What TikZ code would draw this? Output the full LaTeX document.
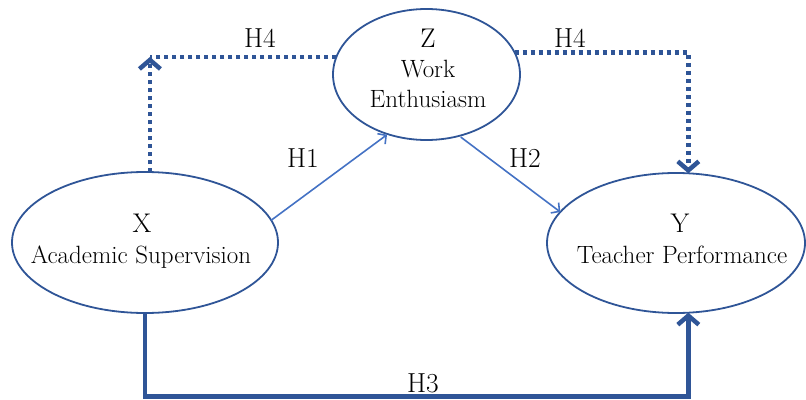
\documentclass[tikz,border=0pt]{standalone}
\usetikzlibrary{arrows.meta,shapes.geometric}
\definecolor{dkblue}{HTML}{2F5597}
\definecolor{ltblue}{HTML}{4472C4}
\begin{document}
\begin{tikzpicture}[x=1pt,y=-1pt,
  oval/.style={ellipse, draw=dkblue, line width=1.8pt, inner sep=0pt, outer sep=0pt},
  letter/.style={anchor=base, font=\fontsize{27}{31}\selectfont, inner sep=0pt},
  vname/.style={anchor=base, font=\fontsize{25}{29}\selectfont, inner sep=0pt},
  hlabel/.style={anchor=base, font=\fontsize{27.5}{31}\selectfont, inner sep=0pt},
  thinarrow/.style={draw=ltblue, line width=1.6pt, -{Straight Barb[length=6pt,width=13pt,line width=1.6pt]}},
  dotline/.style={draw=dkblue, line width=4.5pt, dash pattern=on 4.5pt off 3.5pt},
  dotarrow/.style={dotline, -{Straight Barb[length=9pt,width=21pt,line width=4.5pt]}},
  thickarrow/.style={draw=dkblue, line width=4.5pt, line join=miter, -{Straight Barb[length=9pt,width=21pt,line width=4.5pt]}},
]
\useasboundingbox (0,0) rectangle (806,399);

% ellipses
\node[oval, minimum width=266pt, minimum height=141pt] (X) at (145,242.5) {};
\node[oval, minimum width=187pt, minimum height=131pt] (Z) at (426.5,74.5) {};
\node[oval, minimum width=258pt, minimum height=140pt] (Y) at (676,243) {};

% texts
\node[letter] (tX) at (142,232) {X};
\node[vname] (nX) at (141,263) {Academic Supervision};
\node[letter] (tZ) at (428,47) {Z};
\node[vname] (nZ1) at (428,77) {Work};
\node[vname] (nZ2) at (428,107) {Enthusiasm};
\node[letter] (tY) at (680,232) {Y};
\node[vname] (nY) at (682,263) {Teacher Performance};

% H1, H2
\draw[thinarrow, shorten >=1pt] (X.10) -- (Z.237);
\draw[thinarrow, shorten <=2pt] (Z.298) -- (Y.165);

% H4 left
\coordinate (k4l) at (X.86 |- Z.169);
\draw[dotline] (Z.169) -- (k4l);
\draw[dotarrow] (X.86) -- (k4l);

% H4 right
\draw[dotarrow] (Z.14) -| (Y.80);

% H3
\coordinate (k3) at (400,396.5);
\draw[thickarrow] (X.south) |- (k3) -| (Y.280);

% labels
\node[hlabel] (h4a) at (260,47) {H4};
\node[hlabel] (h4b) at (570,47) {H4};
\node[hlabel] (h1) at (303,167) {H1};
\node[hlabel] (h2) at (525,167) {H2};
\node[hlabel] (h3) at (423,392) {H3};
\end{tikzpicture}
\end{document}
